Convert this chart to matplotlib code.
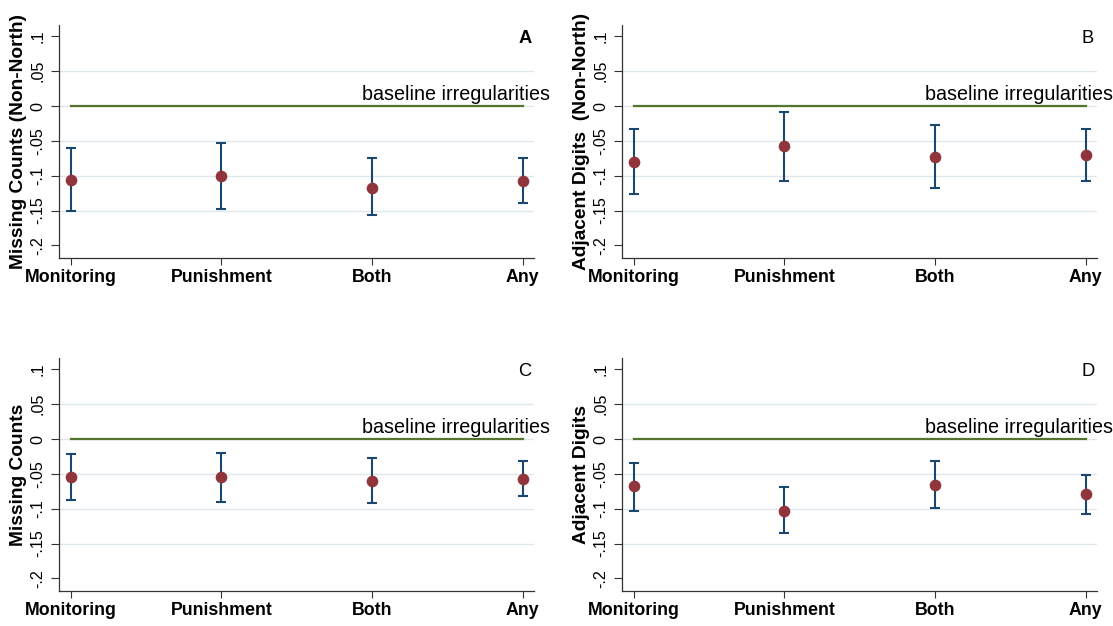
import matplotlib
matplotlib.use("Agg")
import matplotlib.pyplot as plt

categories = ["Monitoring", "Punishment", "Both", "Any"]
ytick_vals = [-0.2, -0.15, -0.1, -0.05, 0.0, 0.05, 0.1]
ytick_labels = ["-.2", "-.15", "-.1", "-.05", "0", ".05", ".1"]

A_est = [-0.106, -0.100, -0.117, -0.108]
A_lo = [-0.151, -0.148, -0.157, -0.139]
A_hi = [-0.060, -0.053, -0.075, -0.074]

B_est = [-0.080, -0.058, -0.073, -0.070]
B_lo = [-0.126, -0.107, -0.118, -0.107]
B_hi = [-0.0325, -0.008, -0.027, -0.0325]

C_est = [-0.054, -0.054, -0.060, -0.057]
C_lo = [-0.088, -0.090, -0.092, -0.082]
C_hi = [-0.021, -0.0196, -0.027, -0.031]

D_est = [-0.068, -0.103, -0.0655, -0.079]
D_lo = [-0.103, -0.135, -0.0995, -0.107]
D_hi = [-0.034, -0.069, -0.031, -0.051]

ylabels = ["Missing Counts (Non-North)", "Adjacent Digits  (Non-North)",
           "Missing Counts", "Adjacent Digits"]
letters = ["A", "B", "C", "D"]
baseline_text = "baseline irregularities"

plt.rcParams["font.family"] = ["Liberation Sans", "DejaVu Sans"]

W, H = 1113, 626
fig = plt.figure(figsize=(W / 100, H / 100), dpi=100)
fig.patch.set_facecolor("white")

def px_axes(left, top, right, bottom):
    return [left / W, 1 - bottom / H, (right - left) / W, (bottom - top) / H]

boxes = [(59.3, 25, 533.5, 258.3), (622.3, 25, 1096.7, 258.3),
         (59.3, 358, 533.5, 591.3), (622.3, 358, 1096.7, 591.3)]
data = [(A_est, A_lo, A_hi), (B_est, B_lo, B_hi), (C_est, C_lo, C_hi), (D_est, D_lo, D_hi)]

NAVY = "#1A476F"
MAROON = "#90353B"
GREEN = "#55752F"
GRID = "#DDE7EC"

for i, (box, (est, lo, hi)) in enumerate(zip(boxes, data)):
    ax = fig.add_axes(px_axes(*box))
    x = list(range(1, len(categories) + 1))
    ax.set_xlim(0.923, 4.073)
    ax.set_ylim(-0.2186, 0.1163)
    for g in ytick_vals[1:-1]:
        ax.axhline(g, color=GRID, lw=1.0, zorder=0)
    ax.plot([x[0], x[-1]], [0, 0], color=GREEN, lw=1.6, zorder=1)
    yerr = [[e - l for e, l in zip(est, lo)], [h - e for e, h in zip(est, hi)]]
    ax.errorbar(x, est, yerr=yerr, fmt="none", ecolor=NAVY, elinewidth=1.5,
                capsize=3.6, capthick=1.5, zorder=2)
    ax.plot(x, est, "o", color=MAROON, markersize=8.4, markeredgewidth=0, zorder=3)

    ax.set_xticks(x)
    ax.set_xticklabels(categories, fontsize=12.8, fontweight="bold")
    ax.set_yticks(ytick_vals)
    ax.set_yticklabels(ytick_labels, fontsize=11.6, rotation=90, va="center")
    ax.tick_params(axis="x", length=5, width=0.8, pad=3.0, color="#333333")
    ax.tick_params(axis="y", length=5.5, width=0.8, pad=4.6, color="#333333")
    for s in ["top", "right"]:
        ax.spines[s].set_visible(False)
    for s in ["left", "bottom"]:
        ax.spines[s].set_color("#333333")
        ax.spines[s].set_linewidth(0.9)

    ax.text(3.56, 0.0086, baseline_text, ha="center", va="baseline",
            fontsize=14.2, clip_on=False, zorder=4)
    ax.text(4.016, 0.0972, letters[i], ha="center", va="center", fontsize=13.2,
            fontweight="bold" if i == 0 else "normal")

    left, top, right, bottom = box
    fig.text((left - 36) / W, 1 - ((top + bottom) / 2) / H, ylabels[i],
             rotation=90, rotation_mode="anchor", ha="center", va="baseline",
             fontsize=13.8, fontweight="bold")

fig.savefig("out.png", dpi=100, facecolor="white")
